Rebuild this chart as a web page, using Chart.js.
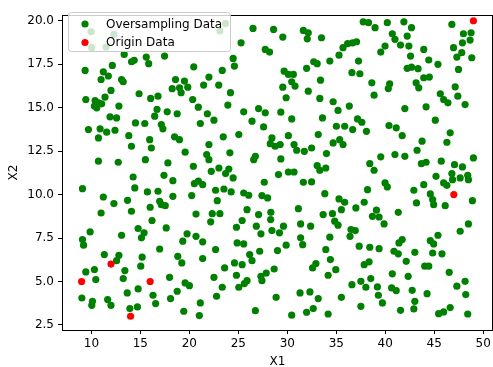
<!DOCTYPE html>
<html>
<head>
<meta charset="utf-8">
<script src="https://cdn.jsdelivr.net/npm/chart.js@4.4.0/dist/chart.umd.min.js"></script>
<style>
  html, body { margin: 0; padding: 0; background: #fff; overflow: hidden; }
  #wrap { width: 497px; height: 367px; }
</style>
</head>
<body>
<div id="wrap"><canvas id="myChart" width="497" height="367"></canvas></div>
<script>
'use strict';

// data
let seriesNames = ['Oversampling Data', 'Origin Data'];
let seriesColors = ['#008000', '#ff0000'];

let originPoints = [[9, 5], [12, 6], [14, 3], [16, 5], [47, 10], [49, 20]];

let oversamplingPoints = [
  [9.97, 19.37], [12.3, 19.21], [10.04, 18.45], [11.5, 18.49], [13.35, 18.06], [14.1, 17.64], [14.37, 17.72],
  [15.6, 17.91], [15.85, 17.53], [17.47, 17.97], [20.45, 17.35], [12.14, 17.43], [11.22, 17.06], [9.36, 17.14],
  [11.73, 16.82], [10.99, 16.62], [13.08, 16.62], [13.25, 16.49], [18.59, 16.62], [19.5, 16.53], [18.25, 16.09],
  [19.0, 16.14], [19.16, 15.86], [19.84, 16.18], [21.46, 16.3], [12.0, 15.99], [11.39, 15.61], [14.87, 15.8],
  [16.05, 15.53], [16.8, 15.66], [9.43, 15.47], [10.38, 15.41], [10.72, 15.28], [10.31, 15.09], [11.05, 15.22],
  [12.81, 15.09], [10.55, 14.99], [20.34, 15.47], [20.92, 15.03], [16.7, 14.9], [17.74, 14.76], [18.76, 14.65],

  [23.7, 19.83], [23.12, 19.41], [26.5, 19.56], [28.6, 19.5], [29.54, 19.06], [31.64, 19.44], [32.14, 19.31],
  [32.04, 18.96], [33.49, 19.02], [25.28, 18.73], [27.75, 18.35], [28.19, 18.2], [24.47, 17.83], [24.6, 17.39],
  [34.34, 17.68], [35.28, 18.02], [35.69, 18.45], [32.7, 17.64], [33.05, 17.53], [31.97, 17.26], [23.36, 17.14],
  [22.0, 16.76], [23.0, 16.3], [29.68, 17.1], [30.11, 16.91], [30.62, 16.91], [30.45, 16.49], [30.79, 16.24],
  [29.54, 16.18], [33.39, 16.58], [32.14, 15.95], [24.2, 15.86], [29.88, 15.57], [33.32, 15.53], [34.68, 15.34],
  [23.93, 15.15], [35.18, 14.84], [25.55, 14.76], [27.07, 14.95], [27.75, 14.7], [29.34, 14.74], [21.84, 14.65],

  [37.75, 19.94], [38.29, 19.89], [38.96, 19.6], [40.21, 19.89], [41.9, 19.94], [42.68, 19.6], [46.8, 19.79],
  [47.98, 19.25], [48.76, 19.31], [48.66, 18.89], [47.88, 18.73], [40.72, 19.25], [40.99, 18.93], [42.24, 19.12],
  [41.56, 18.6], [42.41, 18.54], [36.16, 18.68], [36.67, 18.73], [37.07, 18.79], [39.98, 18.54], [39.54, 18.2],
  [43.93, 18.35], [46.97, 18.45], [47.81, 18.16], [47.31, 17.91], [48.83, 17.87], [42.58, 17.97], [37.27, 17.68],
  [44.44, 17.74], [45.38, 17.49], [47.48, 17.2], [42.24, 17.26], [42.68, 17.33], [43.35, 17.24], [36.6, 17.01],
  [37.41, 16.95], [43.93, 16.72], [44.5, 16.76], [43.15, 16.43], [43.42, 16.14], [38.63, 16.43], [40.45, 16.37],
  [40.31, 16.1], [47.14, 16.2], [38.86, 15.72], [45.62, 15.8], [45.96, 15.47], [46.4, 15.28], [47.41, 15.66],
  [48.15, 15.18], [36.33, 15.09], [42.0, 14.95], [44.17, 15.05],

  [11.9, 14.47], [12.57, 14.41], [16.46, 14.51], [9.7, 13.74], [10.89, 13.78], [11.56, 13.59], [12.41, 13.7],
  [10.72, 13.26], [14.5, 14.12], [15.45, 14.09], [17.14, 14.03], [17.3, 13.78], [21.12, 14.09], [13.82, 13.39],
  [15.95, 13.16], [16.12, 12.68], [14.09, 12.78], [18.49, 13.32], [18.99, 13.16], [19.57, 12.44], [10.72, 11.92],
  [12.74, 11.86], [15.51, 12.01], [17.81, 11.82], [20.41, 11.63], [14.26, 11.01], [17.41, 11.11], [18.32, 10.8],
  [20.51, 10.63], [20.92, 10.77], [21.36, 10.57], [9.09, 10.34], [14.43, 10.38], [15.72, 10.15], [16.8, 10.19],
  [18.32, 9.9], [20.24, 9.94], [11.22, 9.86], [12.3, 9.48], [13.69, 9.67], [16.97, 9.61], [17.14, 9.42],
  [17.54, 9.36], [16.0, 9.27], [10.99, 8.94], [14.09, 9.04], [20.68, 8.88],

  [22.51, 14.28], [26.4, 14.22], [27.58, 13.89], [30.45, 14.35], [33.59, 14.41], [35.01, 13.93], [35.86, 13.93],
  [23.46, 13.32], [25.05, 13.45], [22.0, 12.88], [24.14, 12.4], [21.77, 12.3], [22.0, 12.01], [26.74, 12.2],
  [26.57, 12.01], [28.43, 13.26], [28.26, 12.93], [28.76, 12.78], [29.27, 12.88], [30.11, 13.39], [30.69, 12.88],
  [30.96, 12.55], [31.74, 12.49], [32.48, 12.68], [33.16, 13.45], [34.68, 12.97], [35.35, 13.16], [35.69, 12.88],
  [34.0, 12.36], [29.34, 12.05], [33.05, 11.67], [33.93, 11.53], [33.32, 11.4], [23.02, 11.53], [22.24, 11.34],
  [24.03, 11.47], [23.7, 11.21], [24.47, 10.96], [29.1, 11.15], [30.11, 11.3], [30.69, 11.3], [27.65, 10.71],
  [31.64, 10.71], [32.48, 10.73], [22.68, 10.25], [23.53, 10.32], [24.27, 10.15], [25.55, 10.09], [26.06, 9.96],
  [27.41, 9.94], [27.99, 9.81], [22.85, 9.65], [33.83, 10.05], [35.28, 9.75], [35.86, 9.56], [35.52, 9.13],
  [25.89, 9.13], [31.13, 9.19], [28.32, 8.98], [27.07, 8.85], [22.34, 8.9], [23.12, 8.9], [33.66, 8.85],
  [34.61, 8.9],

  [37.17, 14.35], [37.61, 14.16], [36.67, 13.74], [38.08, 13.64], [40.38, 13.97], [41.12, 13.84], [41.73, 13.39],
  [45.11, 14.28], [46.63, 13.55], [46.29, 13.01], [43.76, 13.07], [43.25, 12.55], [39.54, 12.17], [40.99, 12.3],
  [42.0, 12.2], [45.72, 11.92], [49.0, 12.11], [38.42, 11.78], [38.86, 11.4], [43.69, 11.78], [44.17, 11.86],
  [47.07, 11.72], [47.88, 11.59], [45.18, 11.05], [46.8, 11.21], [46.87, 10.86], [47.65, 10.96], [48.42, 11.11],
  [48.49, 10.86], [45.96, 10.67], [46.29, 10.53], [39.98, 10.67], [40.21, 10.44], [43.93, 10.57], [42.92, 10.25],
  [38.19, 10.28], [44.6, 10.04], [44.84, 9.71], [44.94, 9.42], [43.19, 9.52], [46.12, 9.36], [48.9, 9.65],
  [37.85, 9.56], [37.0, 9.23], [39.1, 9.1], [38.69, 8.75], [39.37, 8.71], [41.33, 8.98],

  [16.19, 8.51], [9.87, 7.85], [9.09, 7.41], [9.2, 7.09], [13.08, 7.66], [14.77, 8.05], [15.38, 7.8],
  [15.11, 7.51], [17.64, 8.08], [19.77, 7.74], [20.68, 7.6], [19.33, 7.32], [21.36, 7.28], [16.97, 6.87],
  [11.32, 6.55], [12.81, 6.51], [12.57, 6.2], [15.18, 6.4], [15.04, 5.88], [18.82, 6.45], [19.23, 6.07],
  [21.36, 6.32], [9.43, 5.55], [10.31, 5.69], [13.42, 5.63], [13.25, 5.17], [10.45, 5.11], [17.98, 5.24],
  [19.57, 4.92], [20.01, 4.76], [18.76, 4.44], [14.77, 4.57], [13.66, 4.34], [16.29, 4.21], [16.56, 3.73],
  [18.08, 4.02], [9.03, 4.05], [10.11, 3.86], [10.04, 3.63], [11.66, 3.96], [12.0, 3.63], [14.7, 3.54],
  [13.93, 3.44], [19.43, 3.29], [21.02, 3.04], [21.12, 3.77],

  [22.18, 8.43], [25.39, 8.51], [28.3, 8.56], [24.81, 8.12], [26.84, 8.18], [27.31, 7.74], [28.43, 7.93],
  [29.2, 7.8], [29.61, 8.18], [31.36, 8.31], [32.38, 8.18], [34.84, 8.47], [35.18, 8.24], [31.36, 7.51],
  [31.57, 7.12], [34.34, 7.55], [24.88, 7.22], [25.55, 7.16], [29.88, 7.09], [22.68, 6.84], [27.18, 6.74],
  [29.0, 6.78], [26.16, 6.55], [26.4, 6.2], [33.93, 6.84], [34.4, 6.26], [24.61, 6.07], [25.39, 5.97],
  [23.6, 5.78], [28.66, 5.72], [27.85, 5.49], [27.31, 5.3], [27.41, 5.05], [32.92, 6.03], [32.58, 5.78],
  [34.95, 5.68], [34.17, 5.36], [22.51, 5.24], [24.81, 5.36], [25.89, 5.05], [25.62, 4.88], [25.05, 4.67],
  [23.36, 4.67], [22.78, 4.15], [28.86, 4.09], [31.3, 4.34], [32.31, 4.4], [33.16, 4.02], [35.52, 4.09],
  [26.74, 3.32], [30.45, 3.06], [31.97, 3.23], [32.65, 3.44], [34.17, 3.13],

  [39.88, 8.31], [48.49, 8.31], [47.65, 7.89], [45.38, 7.66], [36.5, 7.99], [36.94, 7.93], [36.4, 7.6],
  [37.34, 7.03], [38.42, 6.97], [39.37, 6.89], [41.4, 7.22], [41.73, 7.41], [40.89, 6.74], [41.33, 6.59],
  [43.02, 6.68], [44.6, 7.35], [44.94, 7.16], [44.84, 6.64], [45.79, 6.59], [42.14, 6.16], [37.85, 5.97],
  [38.35, 6.13], [44.03, 5.88], [44.44, 5.88], [46.53, 5.53], [40.72, 5.44], [42.34, 5.3], [36.6, 4.82],
  [37.51, 5.01], [38.02, 4.67], [38.52, 5.17], [39.2, 4.69], [40.65, 4.63], [41.12, 4.48], [42.75, 4.49],
  [44.27, 4.3], [47.31, 4.73], [48.15, 5.01], [48.22, 4.25], [39.3, 4.21], [39.71, 3.77], [43.02, 3.86],
  [37.51, 3.57], [41.56, 3.34], [42.92, 3.42], [45.45, 3.15], [45.96, 3.25], [46.63, 3.5], [48.42, 3.13]
];

let xTicks = [10, 15, 20, 25, 30, 35, 40, 45, 50];
let yTicks = [2.5, 5, 7.5, 10, 12.5, 15, 17.5, 20];

let fontFamily = '"DejaVu Sans", sans-serif';

function toXY(list) {
  return list.map(function (p) { return { x: p[0], y: p[1] }; });
}

// matplotlib style legend inside the axes plus the top spine
let insideLegend = {
  id: 'insideLegend',
  afterDraw: function (chart) {
    let ctx = chart.ctx;
    let area = chart.chartArea;
    ctx.save();
    ctx.strokeStyle = '#000';
    ctx.lineWidth = 1;
    ctx.beginPath();
    ctx.moveTo(area.left, area.top + 0.5);
    ctx.lineTo(area.right, area.top + 0.5);
    ctx.moveTo(area.right - 0.5, area.top);
    ctx.lineTo(area.right - 0.5, area.bottom);
    ctx.stroke();

    let bx = 68.5, by = 12.5, bw = 162, bh = 39, r = 3;
    ctx.beginPath();
    ctx.moveTo(bx + r, by);
    ctx.lineTo(bx + bw - r, by);
    ctx.quadraticCurveTo(bx + bw, by, bx + bw, by + r);
    ctx.lineTo(bx + bw, by + bh - r);
    ctx.quadraticCurveTo(bx + bw, by + bh, bx + bw - r, by + bh);
    ctx.lineTo(bx + r, by + bh);
    ctx.quadraticCurveTo(bx, by + bh, bx, by + bh - r);
    ctx.lineTo(bx, by + r);
    ctx.quadraticCurveTo(bx, by, bx + r, by);
    ctx.closePath();
    ctx.fillStyle = 'rgba(255,255,255,0.8)';
    ctx.fill();
    ctx.strokeStyle = '#cccccc';
    ctx.stroke();

    ctx.font = '12px ' + fontFamily;
    ctx.textBaseline = 'middle';
    ctx.textAlign = 'left';
    for (let i = 0; i < seriesNames.length; i++) {
      let cy = 24 + i * 18.5;
      ctx.fillStyle = seriesColors[i];
      ctx.beginPath();
      ctx.arc(85, cy, 3.6, 0, Math.PI * 2);
      ctx.fill();
      ctx.fillStyle = '#000';
      ctx.fillText(seriesNames[i], 106, cy + 0.5);
    }
    ctx.restore();
  }
};

let chartConfig = {
  type: 'scatter',
  data: {
    datasets: [{
      label: seriesNames[1],
      data: toXY(originPoints),
      backgroundColor: seriesColors[1],
      borderWidth: 0,
      pointRadius: 3.6,
      order: 0
    },
    {
      label: seriesNames[0],
      data: toXY(oversamplingPoints),
      backgroundColor: seriesColors[0],
      borderWidth: 0,
      pointRadius: 3.6,
      order: 1
    }]
  },
  options: {
    responsive: false,
    animation: false,
    devicePixelRatio: 1,
    layout: { padding: { top: 15, right: 1, left: 0, bottom: 0 } },
    plugins: {
      legend: { display: false },
      tooltip: { enabled: false }
    },
    scales: {
      x: {
        type: 'linear',
        min: 7,
        max: 51,
        afterBuildTicks: function (scale) {
          scale.ticks = xTicks.map(function (v) { return { value: v }; });
        },
        afterFit: function (scale) { scale.height = 37; },
        ticks: {
          color: '#000',
          font: { family: fontFamily, size: 12 },
          padding: 3,
          maxRotation: 0
        },
        grid: { drawOnChartArea: false, tickLength: 4, color: '#000' },
        border: { color: '#000' },
        title: {
          display: true,
          text: 'X1',
          color: '#000',
          font: { family: fontFamily, size: 12 },
          padding: { top: 0, bottom: -2 }
        }
      },
      y: {
        type: 'linear',
        min: 2.21,
        max: 20.33,
        afterBuildTicks: function (scale) {
          scale.ticks = yTicks.map(function (v) { return { value: v }; });
        },
        afterFit: function (scale) { scale.width = 62; },
        ticks: {
          color: '#000',
          font: { family: fontFamily, size: 12 },
          padding: 4,
          callback: function (v) { return Number(v).toFixed(1); }
        },
        grid: { drawOnChartArea: false, tickLength: 4, color: '#000' },
        border: { color: '#000' },
        title: {
          display: true,
          text: 'X2',
          color: '#000',
          font: { family: fontFamily, size: 12 },
          padding: { top: 7, bottom: 0 }
        }
      }
    }
  },
  plugins: [insideLegend]
};

let ctx = document.getElementById('myChart').getContext('2d');
let myChart = new Chart(ctx, chartConfig); //eslint-disable-line
</script>
</body>
</html>
